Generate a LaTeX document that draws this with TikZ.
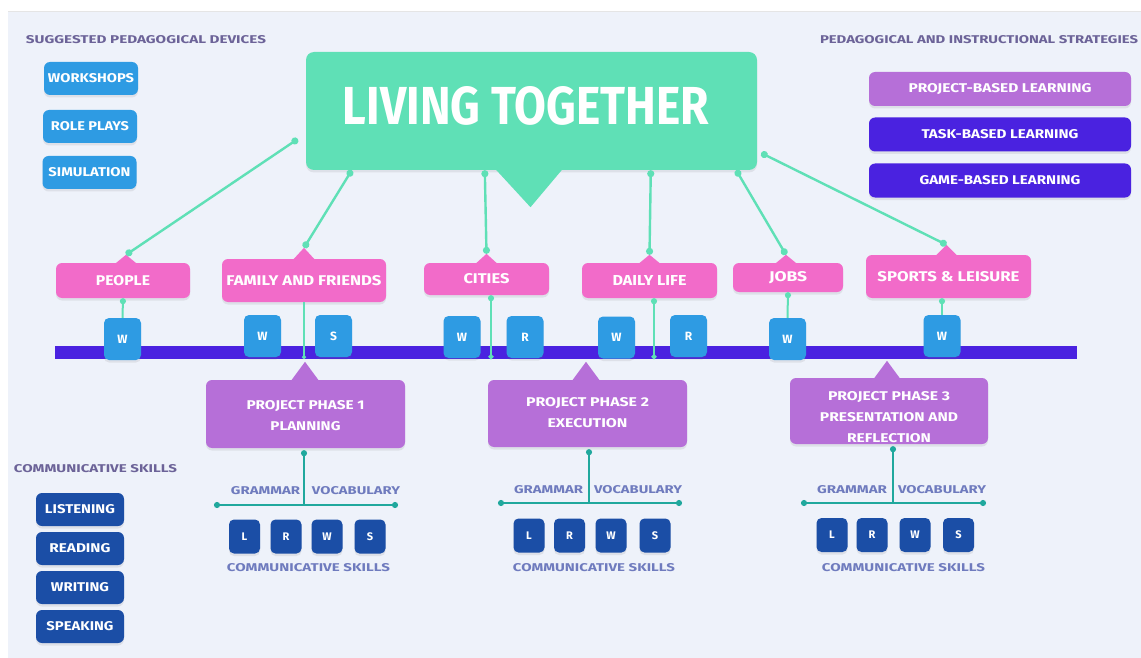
\documentclass[tikz,border=0pt]{standalone}
\usepackage{fontspec}
\usepackage{graphicx}
\setmainfont{Fira Sans}
\usetikzlibrary{arrows.meta,shadows,calc}
\definecolor{panel}{HTML}{EEF2FA}
\definecolor{mint}{HTML}{5FE0B6}
\definecolor{pinkc}{HTML}{F26BC9}
\definecolor{sky}{HTML}{2E9BE3}
\definecolor{indig}{HTML}{4A22E0}
\definecolor{lilac}{HTML}{B66FD8}
\definecolor{navy}{HTML}{1B4EA6}
\definecolor{tealc}{HTML}{20A89D}
\definecolor{ttlc}{HTML}{6C6398}
\definecolor{slate}{HTML}{6F7BBE}
\newcommand{\tx}[3]{\resizebox{#1pt}{#2pt}{#3}}
\tikzset{
  shad/.style={drop shadow={shadow xshift=0pt,shadow yshift=-2.5pt,fill=black!60,opacity=0.12}},
  box/.style={rounded corners=6pt, inner sep=0pt, text=white, font=\bfseries, shad},
  dev/.style={box, fill=sky, minimum width=94pt, minimum height=33pt},
  strat/.style={box, minimum width=262pt, minimum height=34pt},
  topic/.style={box, fill=pinkc},
  wbox/.style={box, fill=sky, minimum width=37pt, minimum height=42pt, rounded corners=5pt, font=\fontsize{12}{12}\selectfont\bfseries},
  lbox/.style={box, fill=navy, minimum width=31pt, minimum height=34pt, rounded corners=5pt, font=\fontsize{11}{11}\selectfont\bfseries},
  phase/.style={box, fill=lilac, minimum width=199pt, minimum height=67pt},
  phtext/.style={inner sep=0pt, text=white, font=\fontsize{9}{21}\selectfont\bfseries, align=center},
  skbox/.style={box, fill=navy, minimum width=88pt, minimum height=33pt},
  ttl/.style={inner sep=0pt, text=ttlc, font=\bfseries},
  lab/.style={inner sep=0pt, text=slate, font=\bfseries},
  link/.style={draw=mint, line width=2.4pt, {Circle[length=7pt]}-{Circle[length=7pt]}},
  low/.style={draw=mint, line width=2pt},
  tl/.style={draw=tealc, line width=2pt}
}
\begin{document}
\begin{tikzpicture}[x=1pt,y=-1pt]
\useasboundingbox (0,0) rectangle (1141,658);
\fill[white] (0,0) rectangle (1141,658);
\fill[panel] (8,12) rectangle (1141,658);
\draw[black!10, line width=1pt] (8,12) -- (1141,12);

% titles
\node[ttl] (tleft) at (146,40) {\tx{240}{8}{SUGGESTED PEDAGOGICAL DEVICES}};
\node[ttl] (tright) at (979,40) {\tx{318}{8}{PEDAGOGICAL AND INSTRUCTIONAL STRATEGIES}};
\node[ttl] (tcomm) at (95.5,469) {\tx{163}{8}{COMMUNICATIVE SKILLS}};

% devices
\node[dev] (d1) at (91,78.5) {\tx{86}{9}{WORKSHOPS}};
\node[dev] (d2) at (90,126.5) {\tx{78}{9}{ROLE PLAYS}};
\node[dev] (d3) at (89.5,172.5) {\tx{82}{9}{SIMULATION}};

% strategies
\node[strat, fill=lilac] (s1) at (1000,89) {\tx{183}{9}{PROJECT-BASED LEARNING}};
\node[strat, fill=indig] (s2) at (1000,134.5) {\tx{157}{9}{TASK-BASED LEARNING}};
\node[strat, fill=indig] (s3) at (1000,180.5) {\tx{161}{9}{GAME-BASED LEARNING}};

% main
\node[box, fill=mint, minimum width=451pt, minimum height=118pt, rounded corners=8pt] (main) at (531.5,111) {};
\fill[mint] ($(main.south)+(-36,-1)$) -- ($(main.south)+(-1,37)$) -- ($(main.south)+(31,-1)$) -- cycle;
\node[inner sep=0pt, text=white, font=\bfseries] (mainText) at ($(main.center)+(-5.5,-5)$) {\tx{366}{38}{LIVING TOGETHER}};

% bar
\node[fill=indig, inner sep=0pt, minimum width=1022pt, minimum height=13pt] (bar) at (566,352.5) {};

% topics
\node[topic, minimum width=134pt, minimum height=35pt] (people) at (123,280.5) {\tx{54}{10}{PEOPLE}};
\node[topic, minimum width=164pt, minimum height=43pt] (family) at (304,280.5) {\tx{155}{10}{FAMILY AND FRIENDS}};
\node[topic, minimum width=125pt, minimum height=32pt] (cities) at (486.5,279) {\tx{46}{10}{CITIES}};
\node[topic, minimum width=135pt, minimum height=35pt] (daily) at (649.5,280.5) {\tx{74}{10}{DAILY LIFE}};
\node[topic, minimum width=110pt, minimum height=29pt] (jobs) at (788,277.5) {\tx{38}{10}{JOBS}};
\node[topic, minimum width=165pt, minimum height=43pt] (sports) at (948.5,276.5) {\tx{142}{10}{SPORTS \& LEISURE}};

\coordinate (peopleTip) at ($(people.north)+(3,-8)$);
\coordinate (familyTip) at ($(family.north)+(0,-11)$);
\coordinate (citiesTip) at ($(cities.north)+(0,-9)$);
\coordinate (dailyTip) at ($(daily.north)+(0,-8)$);
\coordinate (jobsTip) at ($(jobs.north)+(-2,-8)$);
\coordinate (sportsTip) at ($(sports.north)+(-2,-10)$);
\foreach \t/\h in {peopleTip/9,familyTip/12,citiesTip/10,dailyTip/9,jobsTip/9,sportsTip/11}{
  \fill[pinkc] ($(\t)+(-11,\h)$) -- (\t) -- ($(\t)+(11,\h)$) -- cycle;
}

% skill boxes on bar
\node[wbox] (w1) at (122.5,339) {W};
\node[wbox] (w2) at (262.5,336) {W};
\node[wbox] (s2b) at (333.5,336) {S};
\node[wbox] (w3) at (462,337) {W};
\node[wbox] (r3) at (525,337) {R};
\node[wbox] (w4) at (616.5,337.5) {W};
\node[wbox] (r4) at (688.5,336) {R};
\node[wbox] (w5) at (787.5,339) {W};
\node[wbox] (w6) at (942,336) {W};

% phases
\node[phase, minimum height=68pt] (ph1) at (305.5,414) {};
\node[phase] (ph2) at (587.5,413.5) {};
\node[phase, minimum width=198pt, minimum height=66pt] (ph3) at (889,411) {};
\node[phtext] (ph1t) at ($(ph1.center)+(0,2)$) {\tx{118}{9}{PROJECT PHASE 1}\\\tx{70}{9}{PLANNING}};
\node[phtext] (ph2t) at ($(ph2.center)+(0,-1)$) {\tx{123}{9}{PROJECT PHASE 2}\\\tx{80}{9}{EXECUTION}};
\node[phtext] (ph3t) at ($(ph3.center)+(0,6)$) {\tx{122}{9}{PROJECT PHASE 3}\\\tx{138}{9}{PRESENTATION AND}\\\tx{84}{9}{REFLECTION}};
\coordinate (ph1Tip) at ($(ph1.north)+(-0.5,-18)$);
\coordinate (ph2Tip) at ($(ph2.north)+(-1.5,-18)$);
\coordinate (ph3Tip) at ($(ph3.north)+(-2,-17)$);
\foreach \t in {ph1Tip,ph2Tip,ph3Tip}{
  \fill[lilac] ($(\t)+(-14,19)$) -- (\t) -- ($(\t)+(14,19)$) -- cycle;
}

% grammar / vocabulary T lines
\coordinate (t1l) at (214,505); \coordinate (t1r) at (398,505);
\coordinate (t2l) at (498,503); \coordinate (t2r) at (682,503);
\coordinate (t3l) at (801,503); \coordinate (t3r) at (986,503);
\draw[tl, {Circle[length=6pt]}-{Circle[length=6pt]}] (t1l) -- (t1r);
\draw[tl, {Circle[length=6pt]}-{Circle[length=6pt]}] (t2l) -- (t2r);
\draw[tl, {Circle[length=6pt]}-{Circle[length=6pt]}] (t3l) -- (t3r);
\draw[tl, {Circle[length=6pt]}-] ($(ph1.south)+(-1.5,2)$) -- ($(ph1.south |- t1l)+(-1.5,0)$);
\draw[tl, {Circle[length=6pt]}-] ($(ph2.south)+(1.5,2)$) -- ($(ph2.south |- t2l)+(1.5,0)$);
\draw[tl, {Circle[length=6pt]}-] ($(ph3.south)+(4,2)$) -- ($(ph3.south |- t3l)+(4,0)$);

\node[lab] (g1) at (265.5,491) {\tx{69}{8}{GRAMMAR}};
\node[lab] (v1) at (356,491) {\tx{88}{8}{VOCABULARY}};
\node[lab] (g2) at (548.5,490) {\tx{69}{8}{GRAMMAR}};
\node[lab] (v2) at (638,490) {\tx{88}{8}{VOCABULARY}};
\node[lab] (g3) at (852,490) {\tx{70}{8}{GRAMMAR}};
\node[lab] (v3) at (942,490) {\tx{88}{8}{VOCABULARY}};

% L R W S
\node[lbox] (l1) at (244.5,536.5) {L};
\node[lbox] (r1) at (286,536.5) {R};
\node[lbox] (wa) at (327,536.5) {W};
\node[lbox] (sa) at (370,536.5) {S};
\node[lbox] (l2) at (529,535.5) {L};
\node[lbox] (r2) at (569.5,535.5) {R};
\node[lbox] (wb) at (611,535.5) {W};
\node[lbox] (sb) at (655,535.5) {S};
\node[lbox] (l3) at (832,535) {L};
\node[lbox] (r3b) at (872,535) {R};
\node[lbox] (wc) at (915,535) {W};
\node[lbox] (sc) at (958.5,535) {S};
\node[lab] (c1) at (308.5,568) {\tx{163}{8}{COMMUNICATIVE SKILLS}};
\node[lab] (c2) at (594,568) {\tx{162}{8}{COMMUNICATIVE SKILLS}};
\node[lab] (c3) at (903.5,568) {\tx{163}{8}{COMMUNICATIVE SKILLS}};

% left skills
\node[skbox] (ls1) at (80,509.5) {\tx{70}{9}{LISTENING}};
\node[skbox] (ls2) at (80,548.5) {\tx{61}{9}{READING}};
\node[skbox] (ls3) at (80,587.5) {\tx{58}{9}{WRITING}};
\node[skbox] (ls4) at (80,626.5) {\tx{67}{9}{SPEAKING}};

% connectors from main
\draw[link] ($(main.west)+(-8,28)$) -- (peopleTip);
\draw[link] ($(main.south west)+(46,0)$) -- (familyTip);
\draw[link] ($(main.south west)+(179,0)$) -- (citiesTip);
\draw[link] ($(main.south west)+(345,0)$) -- (dailyTip);
\draw[link] ($(main.south east)+(-21,0)$) -- (jobsTip);
\draw[link] ($(main.east)+(4,42)$) -- (sportsTip);

% lower connectors
\draw[low, {Circle[length=6pt]}-] (people.south) -- (w1.north);
\draw[draw=mint, line width=1.4pt, -{Circle[length=4pt]}] (family.south) -- (family.south |- bar.south);
\draw[low, {Circle[length=6pt]}-{Circle[length=5pt]}] ($(cities.south)+(4.5,0)$) -- ($(cities.south |- bar.south)+(4.5,0)$);
\draw[low, {Circle[length=6pt]}-{Circle[length=5pt]}] ($(daily.south)+(4.5,0)$) -- ($(daily.south |- bar.south)+(4.5,0)$);
\draw[low, {Circle[length=6pt]}-] (jobs.south) -- (w5.north);
\draw[low, {Circle[length=6pt]}-] ($(sports.south)+(-6.5,0)$) -- (w6.north);
\end{tikzpicture}
\end{document}
